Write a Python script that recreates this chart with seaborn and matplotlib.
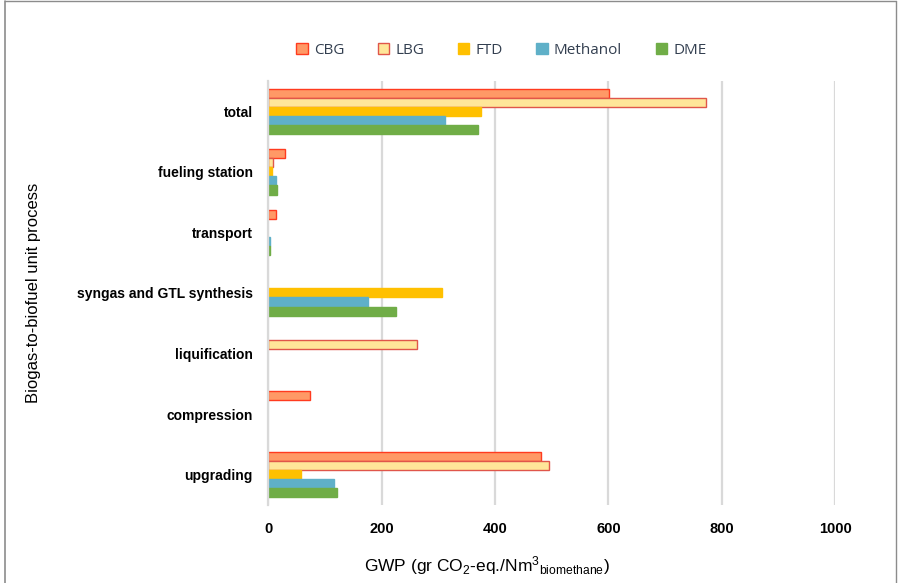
import pandas as pd
import numpy as np
import matplotlib
matplotlib.use("Agg")
import matplotlib.pyplot as plt
import matplotlib.patches as mpatches
from matplotlib.lines import Line2D
import seaborn as sns

# chart data
processes = ['total', 'fueling station', 'transport', 'syngas and GTL synthesis',
             'liquification', 'compression', 'upgrading']
fuels = ['CBG', 'LBG', 'FTD', 'Methanol', 'DME']
cbg = [601, 29, 14, 0, 0, 74, 482]
lbg = [772, 9, 0, 0, 262, 0, 496]
ftd = [375, 6, 0, 307, 0, 0, 57]
methanol = [311, 13, 3, 176, 0, 0, 116]
dme = [370, 16, 3, 226, 0, 0, 121]

fill_colors = ['#FF9966', '#FFE699', '#FFC000', '#5FB0C8', '#70AD47']
edge_colors = ['#FF3B1F', '#E0564A', '#FFC000', '#5FB0C8', '#70AD47']

# long table for seaborn
rows = []
for fuel, vals in zip(fuels, [cbg, lbg, ftd, methanol, dme]):
    for proc, v in zip(processes, vals):
        rows.append({'process': proc, 'fuel': fuel, 'gwp': v})
df = pd.DataFrame(rows)

sns.set_style('white')
plt.rcParams['font.family'] = ['Liberation Sans', 'DejaVu Sans']
plt.rcParams['mathtext.default'] = 'regular'

fig = plt.figure(figsize=(9, 5.83), dpi=100)
ax = fig.add_axes([0.298, 0.134, 0.63, 0.727])

sns.barplot(data=df, y='process', x='gwp', hue='fuel', order=processes,
            hue_order=fuels, palette=fill_colors, saturation=1, orient='h',
            width=0.75, errorbar=None, legend=False, ax=ax)

# edge colours per series, hide edges on empty bars
for cont, ec in zip(ax.containers, edge_colors):
    for bar in cont:
        if bar.get_width() == 0:
            bar.set_linewidth(0)
        else:
            bar.set_edgecolor(ec)
            bar.set_linewidth(1.0)

ax.set_xlim(0, 1000)
ax.set_xticks([0, 200, 400, 600, 800, 1000])
ax.grid(axis='x', color='#D9D9D9', linewidth=1.6)
ax.set_axisbelow(True)
for s in ['top', 'right', 'bottom']:
    ax.spines[s].set_visible(False)
ax.spines['left'].set_color('#D9D9D9')
ax.spines['left'].set_linewidth(1.6)
ax.tick_params(axis='both', length=0, colors='black')
ax.tick_params(axis='x', pad=12)
ax.tick_params(axis='y', pad=11)
for lab in ax.get_yticklabels():
    lab.set_fontweight('bold')
    lab.set_fontsize(10)
for lab in ax.get_xticklabels():
    lab.set_fontweight('bold')
    lab.set_fontsize(10.5)

ax.set_ylabel('Biogas-to-biofuel unit process', fontsize=12, color='black')
ax.yaxis.set_label_coords(-0.4, 0.5)
ax.set_xlabel('GWP (gr CO$_2$-eq./Nm$^3$$_{biomethane}$)', fontsize=12.5,
              color='black')
ax.xaxis.set_label_coords(0.386, -0.115)

# legend on top
handles = [mpatches.Patch(facecolor=fc, edgecolor=ec, linewidth=1.0)
           for fc, ec in zip(fill_colors, edge_colors)]
fig.legend(handles, fuels, loc='center', bbox_to_anchor=(0.557, 0.914),
           ncol=5, frameon=False, handlelength=0.75, handleheight=0.75,
           handletextpad=0.4, columnspacing=2.2,
           prop={'family': 'Open Sans', 'size': 11}, labelcolor='#333F50')

# chart frame
fig.add_artist(Line2D([0.006, 0.006], [0, 0.998], color='#8C8C8C', lw=1.2,
                      transform=fig.transFigure))
fig.add_artist(Line2D([0.006, 0.996], [0.998, 0.998], color='#8C8C8C', lw=1.0,
                      transform=fig.transFigure))
fig.add_artist(Line2D([0.996, 0.996], [0, 0.998], color='#8C8C8C', lw=1.0,
                      transform=fig.transFigure))

fig.savefig('out.png', dpi=100)
